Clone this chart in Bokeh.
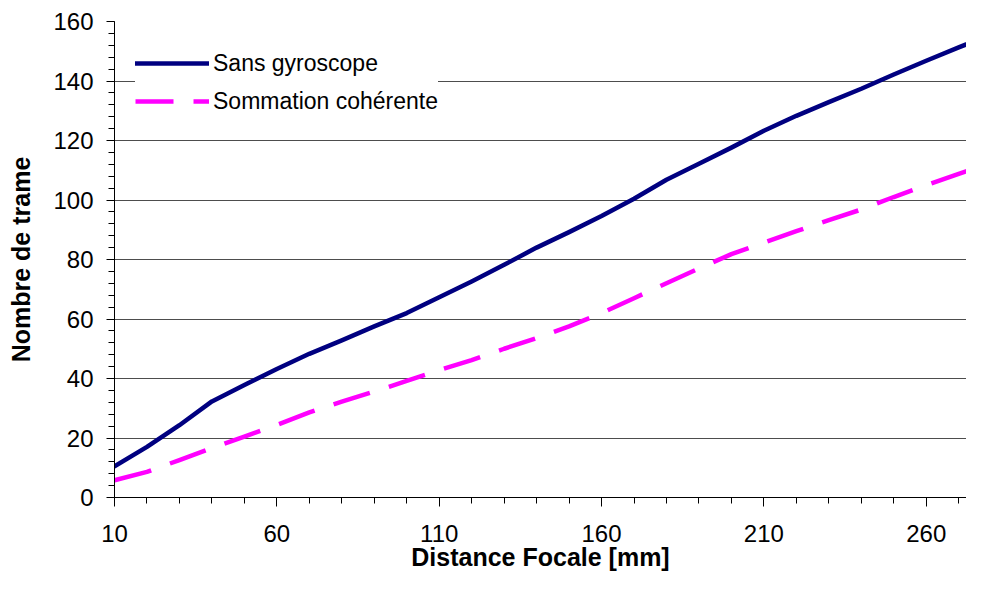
from bokeh.plotting import figure
from bokeh.models import Range1d, FixedTicker
from bokeh.embed import file_html
from bokeh.resources import INLINE

# ---- data ----
focal = [10, 20, 30, 40, 50, 60, 70, 80, 90, 100, 110, 120, 130, 140,
         150, 160, 170, 180, 190, 200, 210, 220, 230, 240, 250, 260, 270, 280]
sans_gyroscope = [10.5, 17.0, 24.3, 32.3, 37.8, 43.2, 48.3, 52.8, 57.5, 62.0,
                  67.3, 72.6, 78.2, 84.0, 89.2, 94.6, 100.4, 106.8, 112.2, 117.6,
                  123.3, 128.3, 132.9, 137.4, 142.2, 146.8, 151.3, 155.6]
sommation = [5.8, 8.6, 12.6, 16.6, 20.5, 24.4, 28.6, 32.2, 35.6, 39.2,
             42.8, 46.2, 50.0, 53.6, 57.5, 62.0, 67.0, 72.0, 77.0, 81.8,
             85.7, 89.5, 93.2, 96.8, 101.0, 105.0, 108.8, 112.5]

x_major_ticks = [10, 60, 110, 160, 210, 260]
x_minor_ticks = list(range(10, 290, 10))
y_major_ticks = list(range(0, 180, 20))
y_minor_ticks = list(range(0, 164, 4))

series_names = ["Sans gyroscope", "Sommation cohérente"]
x_title = "Distance Focale [mm]"
y_title = "Nombre de trame"

FONT = "Liberation Sans"

p = figure(width=966, height=573, output_backend="svg", toolbar_location=None,
           x_range=Range1d(10, 272.4), y_range=Range1d(0, 160),
           min_border_left=114, min_border_right=0, min_border_top=21,
           min_border_bottom=76)
p.outline_line_color = None
p.background_fill_color = "white"
p.border_fill_color = "white"

# grid
p.xgrid.visible = False
p.ygrid.ticker = FixedTicker(ticks=y_major_ticks)
p.ygrid.grid_line_color = "#4d4d4d"
p.ygrid.grid_line_width = 1

# x axis
xa = p.xaxis[0]
xa.ticker = FixedTicker(ticks=x_major_ticks, minor_ticks=x_minor_ticks)
xa.axis_line_color = "black"
xa.major_tick_line_color = "black"
xa.minor_tick_line_color = "black"
xa.major_tick_out = 9
xa.major_tick_in = 0
xa.minor_tick_out = 6
xa.minor_tick_in = 0
xa.major_label_text_font = FONT
xa.major_label_text_font_size = "24px"
xa.major_label_text_color = "black"
xa.major_label_standoff = 18
xa.axis_label = x_title
xa.axis_label_text_font = FONT
xa.axis_label_text_font_size = "25px"
xa.axis_label_text_font_style = "bold"
xa.axis_label_text_color = "black"
xa.axis_label_standoff = -2

# y axis
ya = p.yaxis[0]
ya.ticker = FixedTicker(ticks=y_major_ticks, minor_ticks=y_minor_ticks)
ya.axis_line_color = "black"
ya.major_tick_line_color = "black"
ya.minor_tick_line_color = "black"
ya.major_tick_out = 8
ya.major_tick_in = 0
ya.minor_tick_out = 6
ya.minor_tick_in = 0
ya.major_label_text_font = FONT
ya.major_label_text_font_size = "24px"
ya.major_label_text_color = "black"
ya.major_label_standoff = 13
ya.axis_label = y_title
ya.axis_label_text_font = FONT
ya.axis_label_text_font_size = "25px"
ya.axis_label_text_font_style = "bold"
ya.axis_label_text_color = "black"
ya.axis_label_standoff = 15

# lines
p.line(focal, sans_gyroscope, line_color="#000080", line_width=4.5,
       line_cap="round", line_join="round", legend_label=series_names[0])
p.line(focal, sommation, line_color="#FF00FF", line_width=4.5,
       line_dash="38 20", line_cap="butt", legend_label=series_names[1])

leg = p.legend[0]
leg.location = (21, 377)
leg.border_line_color = None
leg.background_fill_color = "white"
leg.background_fill_alpha = 1
leg.label_text_font = FONT
leg.label_text_font_size = "23px"
leg.label_text_color = "black"
leg.glyph_width = 74
leg.glyph_height = 38
leg.label_height = 38
leg.spacing = 0
leg.padding = 8
leg.label_standoff = 4
leg.margin = 0

open("out.html", "w").write(file_html(p, INLINE))
